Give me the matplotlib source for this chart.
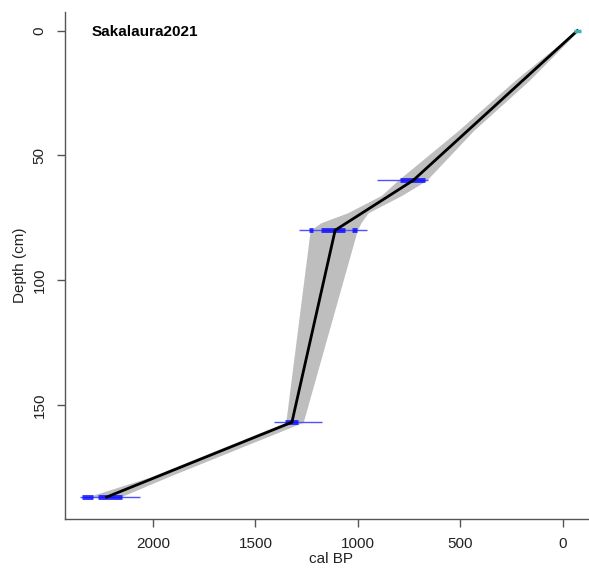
import matplotlib
matplotlib.use("Agg")
import matplotlib.pyplot as plt

plt.rcParams["font.family"] = ["Liberation Sans", "DejaVu Sans"]

# age-depth model (linear interpolation between dates)
model_depth = [0, 60, 80, 157, 187]
model_age = [-71, 730, 1111, 1322, 2226]

# grey 95% envelope
band_depth = [0, 20, 40, 60, 66, 73, 77, 80, 157, 179, 187]
band_young = [-76, 165, 435, 665, 785, 950, 985, 1003, 1267, 1930, 2160]
band_old = [-64, 235, 510, 805, 885, 1050, 1180, 1233, 1352, 2015, 2322]

# calibrated dates: full range and densest parts
date_depth = [60, 80, 157, 187]
date_min = [657, 954, 1174, 2063]
date_max = [906, 1286, 1408, 2356]
hpd_depth = [60, 80, 80, 80, 157, 187, 187]
hpd_from = [671, 1062, 1221, 1003, 1291, 2292, 2151]
hpd_to = [793, 1179, 1240, 1028, 1355, 2346, 2268]

surface_depth = 0
surface_min, surface_max = -90, -55

fig = plt.figure(figsize=(5.89, 5.70), dpi=100)
ax = fig.add_axes([64.7 / 589, 51 / 570, 532.3 / 589, 507 / 570])

ax.fill_betweenx(band_depth, band_young, band_old, color="#bebebe", lw=0)

for d, a, b in zip(date_depth, date_min, date_max):
    ax.plot([a, b], [d, d], color="#5050ff", lw=1, solid_capstyle="butt")
for d, a, b in zip(hpd_depth, hpd_from, hpd_to):
    ax.plot([a, b], [d, d], color="#1010ff", lw=3.5, alpha=0.85, solid_capstyle="butt")

ax.plot(model_age, model_depth, color="black", lw=2)
ax.plot([surface_min, surface_max], [surface_depth, surface_depth],
        color="#3cb4b4", lw=2.5, solid_capstyle="butt")

ax.set_xlim(2431, -167)
ax.set_ylim(195.8, -7.5)
ax.set_xticks([2000, 1500, 1000, 500, 0])
ax.set_yticks([0, 50, 100, 150])

for s in ["top", "right"]:
    ax.spines[s].set_visible(False)
for s in ["left", "bottom"]:
    ax.spines[s].set_color("#555555")
    ax.spines[s].set_linewidth(1)

ax.tick_params(axis="both", direction="out", length=6, width=1, color="#555555",
               labelsize=11, labelcolor="#222222", pad=7)
for lab in ax.get_yticklabels():
    lab.set_rotation(90)
    lab.set_va("center")

ax.set_xlabel("cal BP", fontsize=11, labelpad=1, color="#222222")
ax.set_ylabel("Depth (cm)", fontsize=11, labelpad=4, color="#222222")

ax.text(0.0513, 0.9606, "Sakalaura2021", transform=ax.transAxes,
        fontsize=11, fontweight="bold", ha="left", va="center")

fig.savefig("out.png", dpi=100)
